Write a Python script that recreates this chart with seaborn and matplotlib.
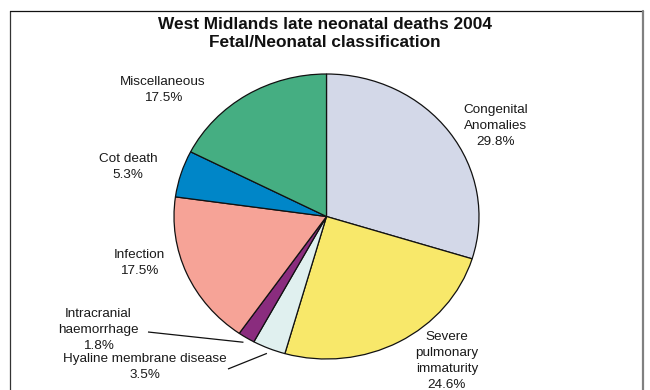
import matplotlib
matplotlib.use("Agg")
import matplotlib.pyplot as plt
import numpy as np
import seaborn as sns
from matplotlib.lines import Line2D

# Causes of late neonatal death, share of all cases (%)
categories = [
    "Congenital\nAnomalies",
    "Severe\npulmonary\nimmaturity",
    "Hyaline membrane disease",
    "Intracranial\nhaemorrhage",
    "Infection",
    "Cot death",
    "Miscellaneous",
]
shares = [29.8, 24.6, 3.5, 1.8, 17.5, 5.3, 17.5]
colors = ["#D3D8E8", "#F8E86A", "#E0F0EF", "#8A2C7E", "#F6A397", "#0086C8", "#45AE82"]

title_lines = ["West Midlands late neonatal deaths 2004", "Fetal/Neonatal classification"]

# label centres in pixels (x from left, y from top)
label_pos = [(496, 126), (447, 361), (145, 367), (98, 330), (139, 263), (128, 167), (163, 90)]
# leader line starts (pixels) for the two thin slices
leader_start = {2: (228, 369), 3: (148, 332)}

W, H = 650, 390
CX, CY, RX, RY = 326.5, 216.5, 152.5, 142.5

sns.set_theme(style="white")
plt.rcParams["font.family"] = ["Liberation Sans", "DejaVu Sans"]

fig = plt.figure(figsize=(W / 100, H / 100), dpi=100)
fig.patch.set_facecolor("white")
ax = fig.add_axes([0, 0, 1, 1])

wedges, _ = ax.pie(
    shares,
    colors=colors,
    startangle=90,
    counterclock=False,
    wedgeprops=dict(edgecolor="#111111", linewidth=0.9),
)
ax.set_aspect("auto")
ax.set_xlim(-CX / RX, (W - CX) / RX)
ax.set_ylim((CY - H) / RY, CY / RY)
ax.axis("off")


def to_data(px, py):
    return (px - CX) / RX, (CY - py) / RY


for i, (name, val) in enumerate(zip(categories, shares)):
    x, y = to_data(*label_pos[i])
    ax.text(x, y, f"{name}\n{val:.1f}%", ha="center", va="center",
            fontsize=9.7, color="#1a1a1a", linespacing=1.42)
    if i in leader_start:
        w = wedges[i]
        th = np.deg2rad((w.theta1 + w.theta2) / 2)
        sx, sy = to_data(*leader_start[i])
        ax.plot([sx, 1.037 * np.cos(th)], [sy, 1.037 * np.sin(th)],
                color="#111111", lw=0.9, solid_capstyle="butt")

fig.text(0.5, 1 - 33.5 / H, "\n".join(title_lines), ha="center", va="center",
         fontsize=12.4, fontweight="bold", color="#111111", linespacing=1.3)

# chart border
left, top, right = 9.5 / W, 1 - 10.5 / H, 643 / W
fig.add_artist(Line2D([left, left], [0, top], transform=fig.transFigure, color="#333333", lw=0.9))
fig.add_artist(Line2D([left, right], [top, top], transform=fig.transFigure, color="#111111", lw=0.9))
fig.add_artist(Line2D([right, right], [0, top], transform=fig.transFigure, color="#808080", lw=1.6))

fig.savefig("out.png", dpi=100, facecolor="white")
